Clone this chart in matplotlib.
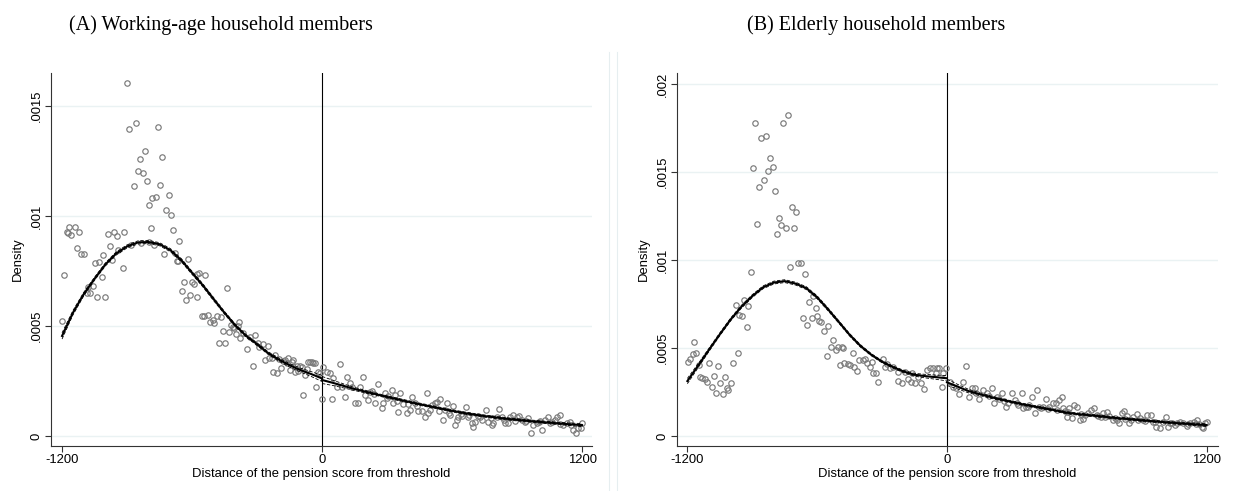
import numpy as np
import matplotlib
matplotlib.use("Agg")
import matplotlib.pyplot as plt
from matplotlib.lines import Line2D

plt.rcParams['font.family'] = ['Liberation Sans', 'DejaVu Sans']

# densities are given in units of 1e-4
# ---------------- panel A: working-age members ----------------
a_x = [-1198, -1189, -1178, -1171, -1168, -1158, -1140, -1129, -1121, -1112,
       -1099, -1086, -1078, -1071, -1058, -1048, -1040, -1028, -1017, -1010,
       -1002, -989, -978, -971, -958, -948, -940, -920, -912, -900,
       -889, -883, -869, -860, -848, -838, -837, -827, -818, -808,
       -800, -798, -789, -783, -775, -768, -758, -748, -738, -729,
       -718, -707, -698, -689, -678, -671, -666, -658, -648, -637,
       -628, -617, -609, -598, -592, -578, -575, -566, -555, -545,
       -538, -525, -517, -505, -498, -483, -477, -466, -458, -448,
       -437, -428, -420, -412, -405, -397, -390, -382, -378, -366,
       -348, -332, -320, -309, -294, -289, -274, -263, -248, -243,
       -232, -228, -216, -209, -200, -191, -180, -171, -163, -155,
       -148, -140, -132, -125, -117, -109, -102, -94, -86, -78,
       -70, -63, -55, -48, -40, -32, -28, -17, -9,
       2, 6, 22, 37, 45, 52, 68, 83, 91, 106,
       114, 130, 137, 152, 168, 175, 191, 198, 214, 221,
       229, 240, 245, 260, 275, 283, 291, 300, 306, 321,
       329, 337, 345, 352, 360, 375, 391, 395, 406, 414,
       429, 440, 444, 460, 475, 483, 491, 500, 506, 521,
       529, 540, 544, 557, 568, 575, 585, 591, 606, 614,
       621, 629, 640, 644, 663, 675, 680, 691, 698, 706,
       721, 730, 737, 757, 767, 780, 783, 791, 806, 817,
       829, 840, 844, 860, 867, 883, 890, 898, 911, 921,
       937, 940, 952, 964, 975, 991, 1000, 1006, 1017, 1029,
       1044, 1050, 1060, 1075, 1083, 1098, 1100, 1114, 1129, 1144,
       1150, 1160, 1172, 1183, 1194, 1200]
a_y = [5.24, 7.30, 9.29, 9.24, 9.48, 9.14, 9.52, 8.53, 9.29, 8.27,
       8.26, 6.48, 6.76, 6.51, 6.82, 7.85, 6.30, 7.92, 7.24, 8.23,
       6.33, 9.18, 8.64, 8.00, 9.26, 9.11, 8.45, 7.62, 9.26, 16.06,
       13.95, 8.70, 11.36, 14.24, 12.03, 12.59, 8.79, 11.95, 12.94, 11.60,
       8.80, 10.50, 9.47, 10.80, 8.70, 10.85, 14.06, 11.39, 12.67, 8.26,
       10.26, 10.97, 10.03, 9.36, 8.33, 7.97, 7.95, 8.88, 6.61, 7.02,
       6.18, 8.05, 6.41, 7.00, 6.90, 6.30, 7.38, 7.42, 5.45, 5.45,
       7.30, 5.50, 5.20, 5.27, 5.12, 5.45, 4.24, 5.42, 4.79, 4.21,
       6.74, 4.71, 5.05, 4.97, 4.89, 4.64, 5.00, 5.20, 4.48, 4.67,
       3.94, 4.51, 3.20, 4.60, 4.21, 4.06, 4.18, 3.45, 4.11, 3.53,
       3.53, 2.92, 3.70, 2.85, 3.50, 3.08, 3.40, 3.45, 3.30, 3.53,
       3.00, 3.35, 3.45, 2.92, 3.20, 2.97, 3.18, 3.15, 1.88, 2.77,
       3.05, 3.38, 3.38, 3.38, 3.33, 3.30, 2.21, 2.90, 2.85,
       1.67, 3.15, 2.92, 2.85, 1.67, 2.62, 2.24, 3.27, 2.24, 1.79,
       2.67, 2.40, 2.24, 1.49, 1.52, 2.21, 2.67, 1.86, 1.64, 2.02,
       2.06, 1.90, 1.49, 2.39, 1.26, 1.49, 1.94, 1.75, 1.82, 2.09,
       1.52, 1.86, 1.60, 1.11, 1.94, 1.46, 1.06, 1.45, 1.18, 1.79,
       1.49, 1.35, 1.15, 1.15, 0.88, 1.97, 1.03, 1.20, 1.41, 1.49,
       1.55, 1.15, 1.67, 0.73, 1.18, 1.52, 1.05, 0.95, 1.38, 0.50,
       0.73, 0.88, 1.00, 0.91, 1.30, 0.88, 0.95, 0.61, 0.42, 0.65,
       0.91, 0.85, 0.73, 1.18, 0.65, 0.80, 0.50, 0.58, 0.88, 1.21,
       0.88, 0.75, 0.58, 0.58, 0.85, 0.95, 0.70, 0.88, 0.91, 0.73,
       0.65, 0.68, 0.80, 0.12, 0.50, 0.61, 0.65, 0.70, 0.27, 0.73,
       0.88, 0.60, 0.65, 0.73, 0.88, 0.95, 0.55, 0.50, 0.61, 0.65,
       0.50, 0.27, 0.15, 0.35, 0.35, 0.58]

a_fit_lx = [-1200, -1150, -1100, -1050, -1000, -950, -900, -850, -800, -750,
            -700, -650, -600, -550, -500, -450, -400, -350, -300, -250,
            -200, -150, -100, -50, 0]
a_fit_ly = [4.55, 5.60, 6.45, 7.15, 7.80, 8.30, 8.62, 8.80, 8.82, 8.72,
            8.45, 8.00, 7.42, 6.85, 6.22, 5.60, 5.03, 4.55, 4.18, 3.78,
            3.48, 3.22, 3.00, 2.82, 2.62]
a_ci_l = [0.14, 0.10, 0.08, 0.07, 0.07, 0.07, 0.07, 0.07, 0.07, 0.07,
          0.07, 0.07, 0.07, 0.07, 0.07, 0.06, 0.06, 0.06, 0.06, 0.06,
          0.07, 0.08, 0.09, 0.11, 0.14]
a_fit_rx = [0, 50, 100, 150, 200, 250, 300, 350, 400, 450,
            500, 550, 600, 650, 700, 750, 800, 850, 900, 950,
            1000, 1050, 1100, 1150, 1200]
a_fit_ry = [2.55, 2.42, 2.28, 2.14, 2.02, 1.90, 1.78, 1.67, 1.56, 1.45,
            1.35, 1.25, 1.15, 1.06, 0.98, 0.91, 0.85, 0.79, 0.74, 0.69,
            0.65, 0.61, 0.57, 0.53, 0.50]
a_ci_r = [0.16, 0.12, 0.09, 0.07, 0.06, 0.05, 0.05, 0.05, 0.05, 0.05,
          0.05, 0.05, 0.05, 0.05, 0.05, 0.05, 0.05, 0.05, 0.05, 0.05,
          0.05, 0.05, 0.05, 0.06, 0.07]

# ---------------- panel B: elderly members ----------------
b_x = [-1196, -1188, -1176, -1170, -1158, -1147, -1142, -1131, -1119, -1108,
       -1099, -1088, -1077, -1068, -1057, -1047, -1037, -1027, -1019, -1011,
       -999, -988, -976, -968, -960, -946, -937, -926, -919, -908,
       -897, -886, -877, -868, -858, -846, -837, -828, -817, -806,
       -795, -788, -778, -768, -757, -746, -737, -726, -717, -706,
       -697, -689, -677, -667, -657, -646, -637, -626, -618, -606,
       -600, -590, -580, -569, -556, -549, -536, -526, -515, -502,
       -495, -487, -482, -475, -459, -448, -433, -430, -418, -405,
       -390, -380, -371, -356, -348, -341, -328, -318, -294, -287,
       -279, -264, -248, -228, -225, -207, -194, -182, -166, -163,
       -148, -133, -120, -106, -94, -79, -63, -51, -48, -35,
       -25, -17, -5,
       14, 29, 40, 57, 75, 88, 103, 114, 129, 135,
       149, 168, 183, 195, 206, 217, 230, 240, 253, 262,
       273, 284, 299, 314, 322, 330, 345, 353, 365, 376,
       380, 391, 407, 418, 425, 433, 445, 458, 465, 473,
       488, 504, 510, 519, 530, 538, 545, 553, 560, 566,
       576, 587, 600, 615, 620, 630, 640, 654, 664, 680,
       692, 700, 711, 723, 730, 738, 751, 766, 775, 785,
       797, 808, 818, 825, 834, 843, 850, 862, 877, 885,
       893, 908, 915, 926, 941, 954, 960, 966, 985, 1000,
       1013, 1023, 1030, 1039, 1054, 1065, 1077, 1093, 1108, 1115,
       1124, 1142, 1150, 1158, 1167, 1178, 1185, 1193, 1200]
b_y = [4.22, 4.36, 4.66, 5.36, 4.70, 4.06, 3.37, 3.31, 3.24, 3.09,
       4.17, 2.78, 3.41, 2.47, 3.98, 2.99, 2.41, 3.37, 2.71, 2.61,
       3.03, 4.17, 7.42, 4.70, 6.87, 6.84, 7.75, 6.21, 7.39, 9.34,
       15.25, 17.76, 12.03, 14.17, 16.95, 14.55, 17.05, 15.06, 15.78, 15.30,
       13.94, 11.46, 12.41, 11.99, 17.80, 11.80, 18.22, 9.62, 13.03, 11.84,
       12.71, 9.81, 9.81, 6.69, 9.19, 6.31, 7.63, 6.70, 7.95, 7.25,
       6.82, 6.53, 6.45, 5.98, 4.56, 6.25, 5.04, 5.45, 4.88, 5.04,
       4.03, 5.04, 4.98, 4.13, 4.09, 4.03, 4.70, 3.90, 3.70, 4.32,
       4.30, 4.38, 4.13, 3.94, 4.22, 3.60, 3.56, 3.09, 4.36, 3.94,
       4.09, 3.84, 3.94, 3.14, 3.65, 2.99, 3.65, 3.22, 3.09, 3.60,
       2.99, 3.37, 3.03, 2.65, 3.75, 3.84, 3.84, 3.56, 3.84, 3.84,
       2.80, 3.56, 3.84,
       3.09, 2.80, 2.70, 2.39, 3.09, 3.98, 2.24, 2.71, 2.71, 2.45,
       2.08, 2.61, 2.42, 2.30, 2.71, 1.89, 2.20, 2.10, 2.42, 2.00,
       1.67, 1.89, 2.46, 2.05, 1.90, 1.76, 2.42, 1.57, 1.67, 1.67,
       1.75, 2.24, 1.33, 2.61, 1.65, 1.57, 1.67, 2.08, 1.55, 1.67,
       1.89, 1.86, 1.45, 2.05, 2.20, 1.57, 1.40, 1.10, 1.35, 1.57,
       1.00, 1.76, 1.67, 0.91, 1.25, 0.95, 1.20, 1.29, 1.48, 1.57,
       1.19, 1.15, 1.10, 1.29, 1.08, 1.38, 1.14, 0.91, 1.03, 0.91,
       0.72, 1.29, 1.44, 0.97, 1.14, 0.72, 0.93, 1.10, 1.25, 0.90,
       1.00, 0.91, 0.87, 1.19, 1.19, 0.81, 0.82, 0.49, 0.44, 0.81,
       1.10, 0.49, 0.76, 0.72, 0.62, 0.73, 0.81, 0.72, 0.57, 0.70,
       0.72, 0.81, 0.67, 0.91, 0.68, 0.53, 0.44, 0.76, 0.81]

b_fit_lx = a_fit_lx
b_fit_ly = [3.12, 4.00, 4.90, 5.78, 6.62, 7.35, 7.95, 8.45, 8.72, 8.80,
            8.66, 8.40, 7.88, 7.20, 6.48, 5.75, 5.12, 4.62, 4.22, 3.92,
            3.66, 3.48, 3.40, 3.34, 3.28]
b_ci_l = [0.15, 0.11, 0.09, 0.08, 0.08, 0.08, 0.08, 0.08, 0.08, 0.08,
          0.08, 0.08, 0.08, 0.08, 0.07, 0.07, 0.07, 0.06, 0.06, 0.06,
          0.07, 0.08, 0.10, 0.12, 0.15]
b_fit_rx = a_fit_rx
b_fit_ry = [3.05, 2.80, 2.55, 2.38, 2.22, 2.07, 1.93, 1.80, 1.68, 1.57,
            1.46, 1.33, 1.25, 1.19, 1.13, 1.06, 1.00, 0.95, 0.89, 0.84,
            0.79, 0.74, 0.70, 0.66, 0.62]
b_ci_r = [0.18, 0.13, 0.10, 0.08, 0.07, 0.06, 0.06, 0.06, 0.06, 0.06,
          0.06, 0.06, 0.06, 0.06, 0.06, 0.06, 0.06, 0.06, 0.06, 0.06,
          0.06, 0.06, 0.06, 0.07, 0.08]

a_ticks = [0, 5, 10, 15]
a_labels = ['0', '.0005', '.001', '.0015']
b_ticks = [0, 5, 10, 15, 20]
b_labels = ['0', '.0005', '.001', '.0015', '.002']
x_ticks = [-1200, 0, 1200]
titles = ['(A) Working-age household members', '(B) Elderly household members']

W, H = 1234, 491
fig = plt.figure(figsize=(W / 100, H / 100), dpi=100)
FS = 9.4


def px(x0, x1, ytop, ybot):
    return [x0 / W, 1 - ybot / H, (x1 - x0) / W, (ybot - ytop) / H]


def panel(rect, xs, ys, lx, ly, lci, rx, ry, rci, ticks, labels, xlim, ylim):
    ax = fig.add_axes(rect)
    ax.set_xlim(*xlim)
    ax.set_ylim(*ylim)
    ax.grid(axis='y', color='#eaf2f3', lw=1.0)
    ax.set_axisbelow(True)
    ax.axvline(0, color='black', lw=0.8, zorder=2)
    ax.plot(xs, ys, 'o', mfc='none', mec='#7a7a7a', ms=3.9, mew=0.85, zorder=3)
    for fx, fy, ci in [(lx, ly, lci), (rx, ry, rci)]:
        fy = np.array(fy)
        ci = np.array(ci)
        ax.plot(fx, fy, color='black', lw=1.5, zorder=4)
        ax.plot(fx, fy + ci, color='black', lw=0.6, ls=(0, (4, 2)), zorder=4)
        ax.plot(fx, fy - ci, color='black', lw=0.6, ls=(0, (4, 2)), zorder=4)
    for s in ['top', 'right']:
        ax.spines[s].set_visible(False)
    for s in ['left', 'bottom']:
        ax.spines[s].set_color('#333333')
        ax.spines[s].set_linewidth(0.8)
    ax.set_yticks(ticks)
    ax.set_yticklabels(labels, rotation=90, va='center', fontsize=FS)
    ax.set_xticks(x_ticks)
    ax.set_xticklabels([str(t) for t in x_ticks], fontsize=FS)
    ax.tick_params(direction='out', length=4, width=0.8, color='#333333', pad=2)
    ax.set_xlabel('Distance of the pension score from threshold', fontsize=FS, labelpad=1)
    ax.set_ylabel('Density', fontsize=FS, labelpad=5)
    return ax


panel(px(51, 592, 73, 446), a_x, a_y, a_fit_lx, a_fit_ly, a_ci_l,
      a_fit_rx, a_fit_ry, a_ci_r, a_ticks, a_labels, (-1251, 1246), (-0.45, 16.5))
panel(px(677, 1218, 73, 446), b_x, b_y, b_fit_lx, b_fit_ly, b_ci_l,
      b_fit_rx, b_fit_ry, b_ci_r, b_ticks, b_labels, (-1248, 1253), (-0.57, 20.63))

# light borders of the two graph regions
for xb in [608.5, 616.5]:
    fig.add_artist(Line2D([xb / W, xb / W], [0, 1 - 52 / H], color='#e6eef0', lw=0.8))

fig.text(221 / W, 1 - 25 / H, titles[0], ha='center', va='center',
         family='Liberation Serif', fontsize=14.5)
fig.text(876 / W, 1 - 25 / H, titles[1], ha='center', va='center',
         family='Liberation Serif', fontsize=14.5)

fig.savefig('out.png', dpi=100)
